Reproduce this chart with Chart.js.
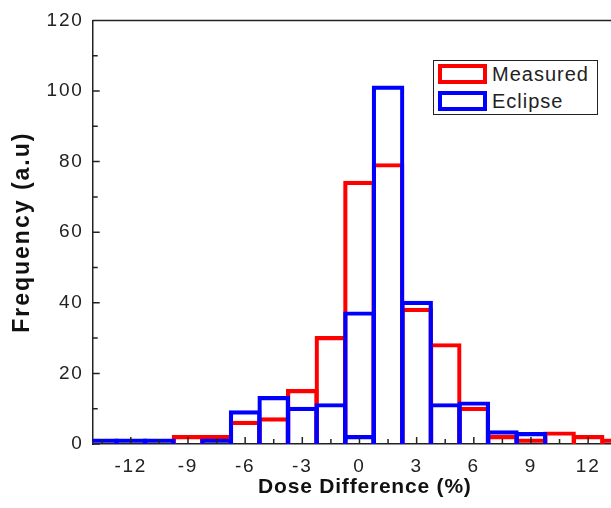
<!DOCTYPE html>
<html>
<head>
<meta charset="utf-8">
<script src="https://cdn.jsdelivr.net/npm/chart.js@4/dist/chart.umd.min.js"></script>
<style>
  html, body { margin: 0; padding: 0; background: #fff; overflow: hidden; }
  #wrap { position: relative; width: 611px; height: 508px; }
  #legend {
    position: absolute; left: 433px; top: 60px; width: 163px; height: 53px;
    border: 1px solid #222; background: #fff;
    font-family: "Liberation Sans", Arial, sans-serif; font-size: 20px; color: #222; letter-spacing: 1px;
  }
  .row { position: absolute; left: 4px; height: 20px; line-height: 20px; }
  .row span.sw { position: absolute; left: 0; top: 0; width: 41px; height: 12px; border: 4px solid; }
  .row span.tx { position: absolute; left: 54px; top: 0; white-space: nowrap; }
</style>
</head>
<body>
<div id="wrap">
  <canvas id="histChart" width="611" height="508"></canvas>
  <div id="legend"></div>
</div>
<script>
// Histogram of dose differences, bins 1.5 % wide
const binCenters = [-13.5, -12, -10.5, -9, -7.5, -6, -4.5, -3, -1.5, 0, 1.5, 3, 4.5, 6, 7.5, 9, 10.5, 12, 13.5];
const measured   = [0, 0, 0, 2, 2, 6, 7, 15, 30, 74, 79, 38, 28, 10, 2, 1, 3, 2, 1];
const eclipse    = [1, 1, 1, 0, 1, 9, 13, 10, 11, 37, 101, 40, 11, 11.5, 3.3, 2.8, 0, 0, 0];
// small inner blue bar seen inside the 0 % bin
const eclipseInner = [{ x: 0, y: 2 }];
const xTicks = [-12, -9, -6, -3, 0, 3, 6, 9, 12];
const seriesNames = ['Measured', 'Eclipse'];
const seriesColors = ['#ff0000', '#0000ff'];

const FONT = '"Liberation Sans", Arial, sans-serif';

// inward tick marks + top frame line
const frameTicks = {
  id: 'frameTicks',
  afterDatasetsDraw(chart) {
    const { ctx, chartArea: a, scales: { x, y } } = chart;
    ctx.save();
    ctx.strokeStyle = '#222';
    ctx.lineWidth = 1.5;
    ctx.beginPath();
    for (let v = -13.5; v <= 13.2; v += 1.5) {
      const px = x.getPixelForValue(v);
      const major = xTicks.includes(v);
      ctx.moveTo(px, a.bottom);
      ctx.lineTo(px, a.bottom - (major ? 7 : 5));
    }
    for (let v = 0; v <= 120; v += 10) {
      const py = y.getPixelForValue(v);
      ctx.moveTo(a.left, py);
      ctx.lineTo(a.left + (v % 20 === 0 ? 7 : 5), py);
    }
    ctx.moveTo(a.left, a.top);
    ctx.lineTo(a.right, a.top);
    ctx.stroke();
    ctx.restore();
  }
};

// wider letter spacing for tick labels and axis titles
function spaced(s, labelSp, titleSp, titleShift) {
  if (s._spaced) return;
  s._spaced = true;
  const dl = s.drawLabels.bind(s), dt = s.drawTitle.bind(s);
  s.drawLabels = function (area) { const c = this.ctx; c.save(); c.letterSpacing = labelSp; dl(area); c.restore(); };
  s.drawTitle = function () {
    const c = this.ctx; c.save(); c.letterSpacing = titleSp; c.translate(titleShift, 0); dt(); c.restore();
  };
}

// thin border + inflate => ~4px outline centred on each bar edge
const barStyle = { borderWidth: { top: 0.2, left: 0.2, right: 0.2, bottom: 0 }, inflateAmount: 2,
                   backgroundColor: 'rgba(0,0,0,0)', barPercentage: 1, categoryPercentage: 1, grouped: false };

new Chart(document.getElementById('histChart'), {
  type: 'bar',
  data: {
    datasets: [
      Object.assign({ label: seriesNames[0], order: 2, borderColor: seriesColors[0],
        data: binCenters.map((x, i) => ({ x: x, y: measured[i] })) }, barStyle),
      Object.assign({ label: seriesNames[1], order: 1, borderColor: seriesColors[1],
        data: binCenters.map((x, i) => ({ x: x, y: eclipse[i] })) }, barStyle),
      Object.assign({ label: seriesNames[1], order: 0, borderColor: seriesColors[1],
        data: eclipseInner }, barStyle)
    ]
  },
  options: {
    responsive: false,
    animation: false,
    layout: { padding: { left: 0, top: 20, right: 0, bottom: 0 } },
    plugins: { legend: { display: false }, tooltip: { enabled: false } },
    scales: {
      x: {
        type: 'linear', min: -14, max: 13.2, offset: false,
        grid: { display: false, drawTicks: false },
        border: { display: true, color: '#222', width: 1.5 },
        afterBuildTicks: s => { s.ticks = xTicks.map(v => ({ value: v })); },
        afterFit: s => { s.height = 64; spaced(s, '1.8px', '0.8px', 13); },
        ticks: { color: '#222', font: { family: FONT, size: 19 }, padding: 11, maxRotation: 0 },
        title: { display: true, text: 'Dose Difference (%)', color: '#111',
                 font: { family: FONT, size: 21, weight: 'bold' }, padding: { top: 0, bottom: 8 } }
      },
      y: {
        min: 0, max: 120,
        grid: { display: false, drawTicks: false },
        border: { display: true, color: '#222', width: 1.5 },
        afterFit: s => { s.width = 92.7; spaced(s, '1.8px', '2px', 0); },
        ticks: { stepSize: 20, color: '#222', font: { family: FONT, size: 19 }, padding: 9 },
        title: { display: true, text: 'Frequency (a.u)', color: '#111',
                 font: { family: FONT, size: 23, weight: 'bold' }, padding: { top: 9, bottom: 0 } }
      }
    }
  },
  plugins: [frameTicks]
});

// legend box
const legend = document.getElementById('legend');
seriesNames.forEach((name, i) => {
  const row = document.createElement('div');
  row.className = 'row';
  row.style.top = (3 + i * 27) + 'px';
  row.innerHTML = '<span class="sw" style="border-color:' + seriesColors[i] + '"></span><span class="tx">' + name + '</span>';
  legend.appendChild(row);
});
</script>
</body>
</html>
